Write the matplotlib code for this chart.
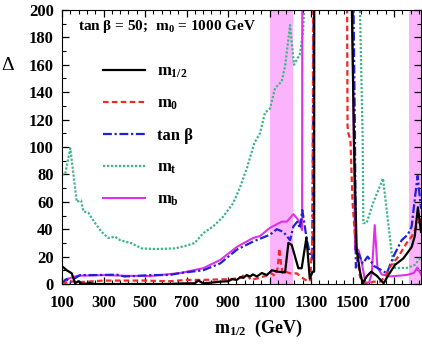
import matplotlib
matplotlib.use('Agg')
import matplotlib.pyplot as plt
from matplotlib.ticker import MultipleLocator

plt.rcParams['font.family'] = 'Liberation Serif'
plt.rcParams['font.weight'] = 'bold'
plt.rcParams['mathtext.fontset'] = 'custom'
plt.rcParams['mathtext.rm'] = 'Liberation Serif:bold'
plt.rcParams['mathtext.it'] = 'Liberation Serif:bold'
plt.rcParams['mathtext.bf'] = 'Liberation Serif:bold'

# values above 200 are off the top of the chart
m_half_x = [100, 123, 147, 163, 179, 195, 215, 235, 260, 400, 600, 700, 740, 757, 780, 820, 862, 900,
            920, 942, 960, 974, 990, 1006, 1020, 1039, 1063, 1087, 1111, 1140, 1175, 1191, 1207, 1239,
            1255, 1278, 1294, 1308, 1315, 1316, 1497, 1507, 1520, 1536, 1549, 1568, 1590, 1617, 1650,
            1673, 1705, 1745, 1761, 1785, 1800, 1815, 1830]
m_half_y = [13, 10, 7.8, 0.5, 2, 0, 0.3, 0.7, 0, 0, 0, 0.5, 0.5, 2.5, 0.5, 1, 1.7, 2,
            3.5, 3, 5, 4.5, 6.5, 5.5, 7, 5.5, 8, 6.5, 10, 9, 8.5, 30, 28.5, 11.5,
            11.5, 34, 4, 9, 9, 400, 200, 105, 25, 9, 0.5, 5.5, 9, 6, 0.5,
            6.6, 14, 18.7, 22, 27, 35, 56, 38]

m0_x = [100, 120, 140, 170, 200, 300, 400, 500, 620, 700, 780, 900, 942, 965, 980, 995, 1011, 1039,
        1083, 1107, 1125, 1140, 1147, 1155, 1163, 1175, 1199, 1231, 1263, 1287, 1296, 1304, 1308, 1312,
        1472, 1474, 1476, 1480, 1490, 1500, 1512, 1520, 1536, 1552, 1576, 1600, 1633, 1657, 1681,
        1721, 1761, 1785, 1809, 1830]
m0_y = [0, 1, 2, 1.5, 1.5, 2.5, 2.5, 2.5, 2, 3, 3, 3.5, 4, 5, 7, 6, 3, 4,
        6, 8, 6, 12, 26, 15, 8, 9, 7.8, 7.8, 4, 1.7, 3, 25, 32, 400,
        400, 200, 115, 110, 105, 60, 35, 25, 5.3, 0.5, 0, 1.7, 1.7, 5.3, 12.6,
        20, 30, 34.6, 42, 48]

tanb_x = [100, 115, 123, 139, 160, 187, 250, 364, 400, 450, 524, 620, 669, 780, 862, 942, 1021, 1054,
          1102, 1135, 1167, 1199, 1215, 1234, 1247, 1258, 1280, 1296, 1306, 1320, 1505, 1512, 1516,
          1530, 1549, 1573, 1605, 1641, 1665, 1697, 1737, 1766, 1785, 1800, 1814, 1830]
tanb_y = [0, 3, 3.6, 1, 4, 6.5, 6.5, 6.8, 5.5, 5.8, 6.5, 6.6, 8, 10, 15, 25, 31, 33,
          36, 40, 38, 32, 42, 45.5, 40.6, 54, 32, 21, 18, 400, 200, 105, 12,
          22, 15, 20, 13, 10, 7.8, 20, 32, 36, 42, 62, 79, 55]

mt_x = [100, 115, 140, 171, 192, 203, 227, 259, 291, 323, 355, 380, 436, 484, 548, 645, 700, 740,
        780, 828, 876, 925, 959, 992, 1027, 1054, 1078, 1102, 1127, 1159, 1175, 1199, 1218, 1247,
        1262, 1268, 1300, 1500, 1536, 1549, 1552, 1568, 1599, 1647, 1689, 1705, 1761, 1801, 1830]
mt_y = [80, 80, 99, 60, 61, 53, 52, 44.5, 38, 33.6, 34.5, 32, 29.7, 26, 25.5, 26, 28, 30,
        37, 42, 49, 59, 71, 85, 103, 110, 125, 128, 143, 148, 159, 189, 160, 168,
        185, 205, 400, 400, 200, 105, 44.5, 44.5, 59, 77, 22.6, 11.7, 11.7, 14, 20]

mb_x = [100, 130, 175, 300, 400, 524, 669, 780, 862, 942, 1021, 1054, 1102, 1159, 1183, 1215, 1239,
        1257, 1259, 1497, 1499, 1512, 1528, 1544, 1562, 1580, 1593, 1607, 1620, 1641, 1681, 1761,
        1795, 1813, 1830]
mb_y = [0.5, 4, 6, 6.5, 6, 5.8, 8, 11.5, 17.5, 27, 33.6, 35, 41, 45.5, 45.5, 51, 46.7,
        39.4, 400, 400, 200, 25, 25, 16, 1, 1, 8, 43, 12, 7, 5.5, 6.6,
        8, 12, 7]

bands = [(1102, 1213), (1773, 1830)]
xticks = [100, 300, 500, 700, 900, 1100, 1300, 1500, 1700]

fig = plt.figure(figsize=(4.22, 3.46), dpi=100)
ax = fig.add_axes([62/422, 1-284/346, 359/422, 274/346])

for lo, hi in bands:
    ax.axvspan(lo, hi, color='#fbb4fb', lw=0, zorder=0)

ax.plot(mt_x, mt_y, color='#3fb488', lw=1.6, ls=(0, (1, 0.8)), label=r'$\mathbf{m_t}$')
ax.plot(mb_x, mb_y, color='#e030e8', lw=1.5, label=r'$\mathbf{m_b}$')
ax.plot(tanb_x, tanb_y, color='#2020d8', lw=1.6, ls=(0, (4, 1.2, 1, 1.2)), label='tan β')
ax.plot(m0_x, m0_y, color='#f02828', lw=1.6, ls=(0, (2.5, 1.5)), label=r'$\mathbf{m_0}$')
ax.plot(m_half_x, m_half_y, color='black', lw=1.6, label=r'$\mathbf{m_{1/2}}$')

ax.set_xlim(100, 1830)
ax.set_ylim(0, 200)
ax.set_xticks(xticks)
ax.xaxis.set_minor_locator(MultipleLocator(40, offset=20))
ax.yaxis.set_major_locator(MultipleLocator(20))
ax.yaxis.set_minor_locator(MultipleLocator(10))
ax.tick_params(which='both', direction='in', top=True, right=True, labelsize=12)
ax.tick_params(axis='x', pad=8)
ax.tick_params(axis='y', pad=6)
ax.tick_params(which='major', length=5, width=0.9)
ax.tick_params(which='minor', length=3, width=0.8)

h, l = ax.get_legend_handles_labels()
order = [4, 3, 2, 0, 1]
ax.legend([h[i] for i in order], [l[i] for i in order], loc='upper left',
          bbox_to_anchor=(0.115, 0.805), frameon=False, fontsize=12,
          handlelength=2.5, handletextpad=0.75, labelspacing=0.95,
          borderpad=0, borderaxespad=0)

ax.text(0.045, 0.938, r'tan β = 50;  $\mathbf{m_0}$ = 1000 GeV', transform=ax.transAxes,
        fontsize=11, va='center', ha='left')

fig.text(8/422, 1-65/346, 'Δ', fontsize=14, fontweight='normal', ha='center', va='center')
fig.text(258/422, 1-328/346, r'$\mathbf{m_{1/2}}$  (GeV)', fontsize=13, ha='center', va='center')

fig.savefig('out.png', dpi=100)
